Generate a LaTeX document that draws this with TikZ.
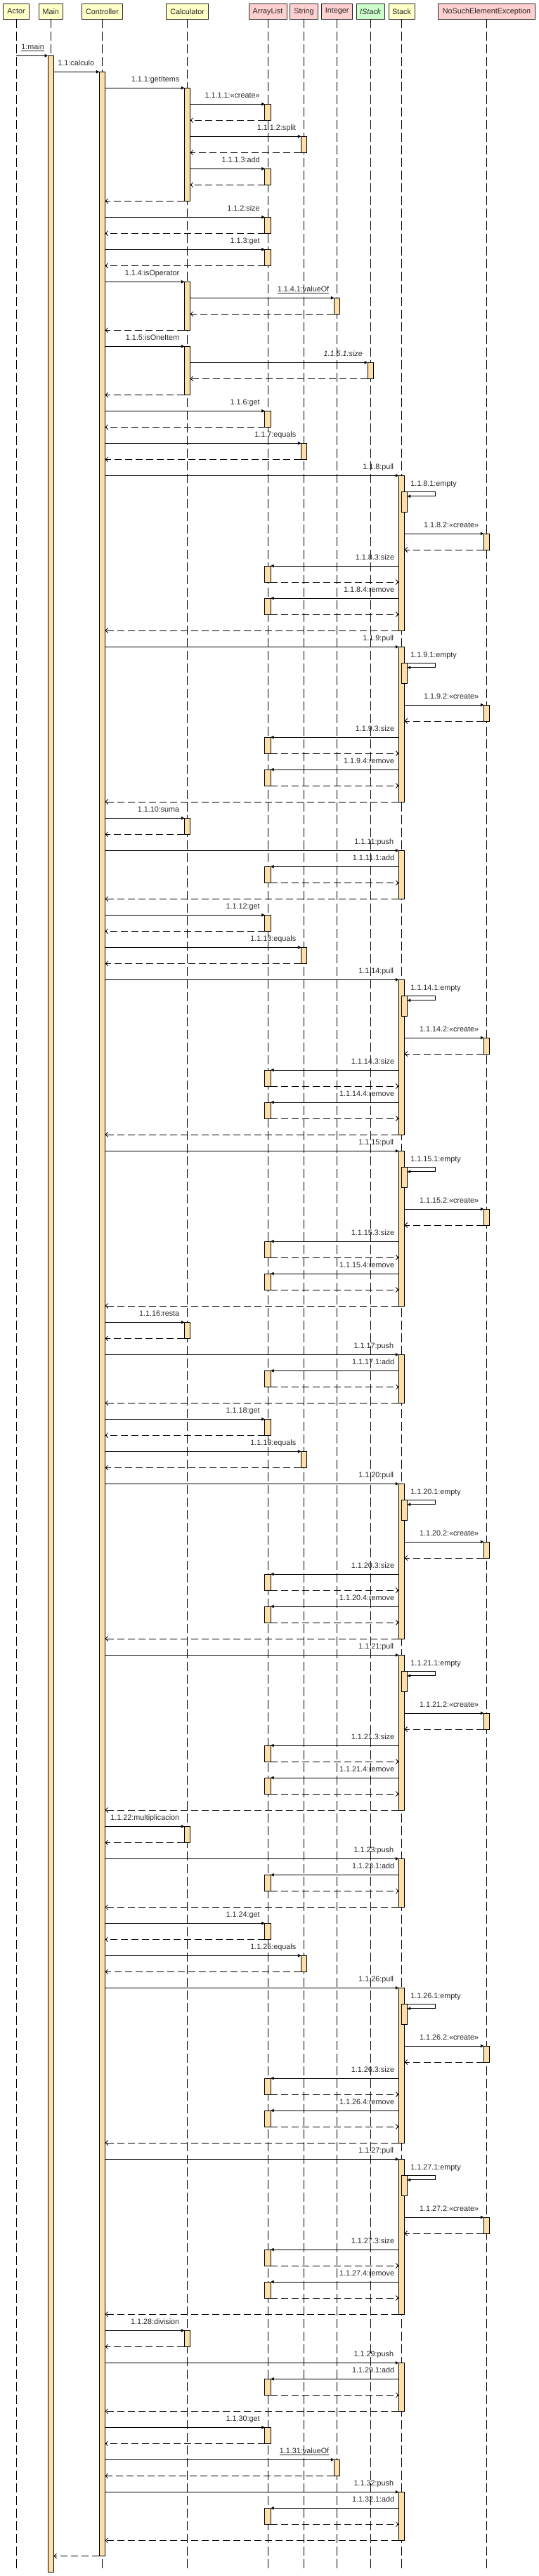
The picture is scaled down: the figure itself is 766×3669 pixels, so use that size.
\documentclass[tikz,border=0pt]{standalone}
\usepackage{fontspec}
\setmainfont{Liberation Sans}
\usetikzlibrary{arrows.meta}
\definecolor{yel}{RGB}{255,255,200}
\definecolor{pnk}{RGB}{255,208,208}
\definecolor{grn}{RGB}{204,255,204}
\definecolor{act}{RGB}{255,223,168}
\definecolor{txt}{RGB}{40,40,40}
\tikzset{
  hdr/.style={draw=black!85, line width=0.8pt, minimum height=22pt, inner sep=0pt, outer sep=0pt, text=txt, font=\fontsize{10.8}{12}\selectfont},
  life/.style={line width=0.9pt, dash pattern=on 13pt off 5pt},
  abar/.style={draw=black, fill=act, line width=0.8pt, minimum width=8.4pt, inner sep=0pt, outer sep=0pt, anchor=north},
  callarr/.style={line width=0.8pt, -{Triangle[length=4.5pt,width=4.5pt]}},
  selfarr/.style={line width=0.8pt, -{Triangle[length=4.5pt,width=4.5pt]}},
  retarr/.style={line width=0.8pt, dash pattern=on 10pt off 5pt, -{Straight Barb[length=3.5pt,width=7pt]}},
  lbl/.style={text=txt, inner sep=0pt, font=\fontsize{10.8}{12}\selectfont},
}
\def\xAc{23}
\def\xMa{72.3}
\def\xCt{145.5}
\def\xCa{266.6}
\def\xAL{381}
\def\xSg{432.6}
\def\xIn{479.6}
\def\xIS{527.3}
\def\xSt{571.5}
\def\xNS{692.5}
\newcommand\crt{\textless\textless create\textgreater\textgreater}
% caller, y, x, name, label, height
\newcommand\opencall[6]{%
  \node[abar, minimum height=#6pt] (#4) at (#3,#2) {};
  \draw[callarr] (#1.east |- #4.north west) -- (#4.north west);
  \node[lbl, anchor=base east] at ([xshift=-7pt,yshift=8.5pt]#4.north west) {#5};
}
\newcommand\closecall[2]{%
  \draw[retarr] (#2.south west) -- (#1.east |- #2.south west);
}
\newcommand\callR[6]{\opencall{#1}{#2}{#3}{#4}{#5}{#6}\closecall{#1}{#4}}
\newcommand\callL[6]{%
  \node[abar, minimum height=#6pt] (#4) at (#3,#2) {};
  \coordinate (#4src) at (#1.west |- #4.north east);
  \draw[callarr] (#4src) -- (#4.north east);
  \draw[retarr] (#4.south east) -- (#1.west |- #4.south east);
  \node[lbl, anchor=base east] at ([xshift=-6pt,yshift=8.5pt]#4src) {#5};
}
% n, P
\newcommand\pullblock[2]{%
  \opencall{ctrlbar}{#2}{\xSt}{pull#1}{1.1.#1:pull}{220.7}
  \node[abar, minimum height=29pt] (emp#1) at (\xSt+4,#2+23.3) {};
  \draw[selfarr] (emp#1.north east) -- ++(39.3,0) -- ++(0,6.2) -- ++(-39.3,0);
  \node[lbl, anchor=base west] at ([xshift=4.5pt,yshift=8.5pt]emp#1.north east) {1.1.#1.1:empty};
  \callR{pull#1}{#2+82.7}{\xNS}{cr#1}{1.1.#1.2:\crt}{23}
  \callL{pull#1}{#2+128.7}{\xAL}{sz#1}{1.1.#1.3:size}{23}
  \callL{pull#1}{#2+174.7}{\xAL}{rm#1}{1.1.#1.4:remove}{23}
  \closecall{ctrlbar}{pull#1}
}
\newcommand\pushblock[2]{%
  \opencall{ctrlbar}{#2}{\xSt}{push#1}{1.1.#1:push}{69}
  \callL{push#1}{#2+23}{\xAL}{ad#1}{1.1.#1.1:add}{23}
  \closecall{ctrlbar}{push#1}
}
\begin{document}
\begin{tikzpicture}[x=1pt,y=-1pt]
\useasboundingbox[fill=white] (0,0) rectangle (766,3669);
% headers
\node[hdr, fill=yel, minimum width=37pt] (hAc) at (\xAc,16.3) {Actor};
\node[hdr, fill=yel, minimum width=34pt] (hMa) at (\xMa,16.3) {Main};
\node[hdr, fill=yel, minimum width=58.5pt] (hCt) at (\xCt,16.3) {Controller};
\node[hdr, fill=yel, minimum width=60pt] (hCa) at (\xCa,16.3) {Calculator};
\node[hdr, fill=pnk, minimum width=54pt] (hAL) at (\xAL,16.3) {ArrayList};
\node[hdr, fill=pnk, minimum width=40pt] (hSg) at (\xSg,16.3) {String};
\node[hdr, fill=pnk, minimum width=43.5pt] (hIn) at (\xIn,16.3) {Integer};
\node[hdr, fill=grn, minimum width=39.5pt] (hIS) at (\xIS,16.3) {\textit{IStack}};
\node[hdr, fill=yel, minimum width=37pt] (hSt) at (\xSt,16.3) {Stack};
\node[hdr, fill=pnk, minimum width=137.5pt] (hNS) at (\xNS,16.3) {NoSuchElementException};
% lifelines
\foreach \h in {hAc,hMa,hCt,hCa,hAL,hSg,hIn,hIS,hSt,hNS}{
  \draw[life] (\h.south) -- ++(0,3631);
}
% main & controller
\node[abar, minimum height=3584pt] (mainbar) at (\xMa,79.3) {};
\coordinate (actstart) at (hAc.south |- mainbar.north);
\draw[callarr] (actstart) -- (mainbar.north west);
\node[lbl, anchor=base east] at ([xshift=-5pt,yshift=8.6pt]mainbar.north west) {\underline{1:main}};
\node[abar, minimum height=3538pt] (ctrlbar) at (\xCt,102.3) {};
\draw[callarr] (mainbar.east |- ctrlbar.north west) -- (ctrlbar.north west);
\node[lbl, anchor=base east] at ([xshift=-7pt,yshift=8.5pt]ctrlbar.north west) {1.1:calculo};
\draw[retarr] (ctrlbar.south west) -- (mainbar.east |- ctrlbar.south west);
% getItems
\opencall{ctrlbar}{125.3}{\xCa}{calcA}{1.1.1:getItems}{161}
\callR{calcA}{148.3}{\xAL}{alA}{1.1.1.1:\crt}{23}
\callR{calcA}{194.3}{\xSg}{sgA}{1.1.1.2:split}{23}
\callR{calcA}{240.3}{\xAL}{alB}{1.1.1.3:add}{23}
\closecall{ctrlbar}{calcA}
\callR{ctrlbar}{309.3}{\xAL}{alC}{1.1.2:size}{23}
\callR{ctrlbar}{355.3}{\xAL}{alD}{1.1.3:get}{23}
\opencall{ctrlbar}{401.3}{\xCa}{calcB}{1.1.4:isOperator}{69}
\callR{calcB}{424.3}{\xIn}{inA}{\underline{1.1.4.1:valueOf}}{23}
\closecall{ctrlbar}{calcB}
\opencall{ctrlbar}{493.3}{\xCa}{calcC}{1.1.5:isOneItem}{69}
\callR{calcC}{516.3}{\xIS}{isA}{\textit{1.1.5.1:size}}{23}
\closecall{ctrlbar}{calcC}
\callR{ctrlbar}{585.3}{\xAL}{alE}{1.1.6:get}{23}
\callR{ctrlbar}{631.3}{\xSg}{sgB}{1.1.7:equals}{23}
\pullblock{8}{677.3}
\pullblock{9}{921.3}
\callR{ctrlbar}{1165.3}{\xCa}{calc10}{1.1.10:suma}{23}
\pushblock{11}{1211.3}
\callR{ctrlbar}{1303.3}{\xAL}{al12}{1.1.12:get}{23}
\callR{ctrlbar}{1349.3}{\xSg}{sg13}{1.1.13:equals}{23}
\pullblock{14}{1395.3}
\pullblock{15}{1639.3}
\callR{ctrlbar}{1883.3}{\xCa}{calc16}{1.1.16:resta}{23}
\pushblock{17}{1929.3}
\callR{ctrlbar}{2021.3}{\xAL}{al18}{1.1.18:get}{23}
\callR{ctrlbar}{2067.3}{\xSg}{sg19}{1.1.19:equals}{23}
\pullblock{20}{2113.3}
\pullblock{21}{2357.3}
\callR{ctrlbar}{2601.3}{\xCa}{calc22}{1.1.22:multiplicacion}{23}
\pushblock{23}{2647.3}
\callR{ctrlbar}{2739.3}{\xAL}{al24}{1.1.24:get}{23}
\callR{ctrlbar}{2785.3}{\xSg}{sg25}{1.1.25:equals}{23}
\pullblock{26}{2831.3}
\pullblock{27}{3075.3}
\callR{ctrlbar}{3319.3}{\xCa}{calc28}{1.1.28:division}{23}
\pushblock{29}{3365.3}
\callR{ctrlbar}{3457.3}{\xAL}{al30}{1.1.30:get}{23}
\callR{ctrlbar}{3503.3}{\xIn}{in31}{\underline{1.1.31:valueOf}}{23}
\pushblock{32}{3549.3}
\end{tikzpicture}
\end{document}
